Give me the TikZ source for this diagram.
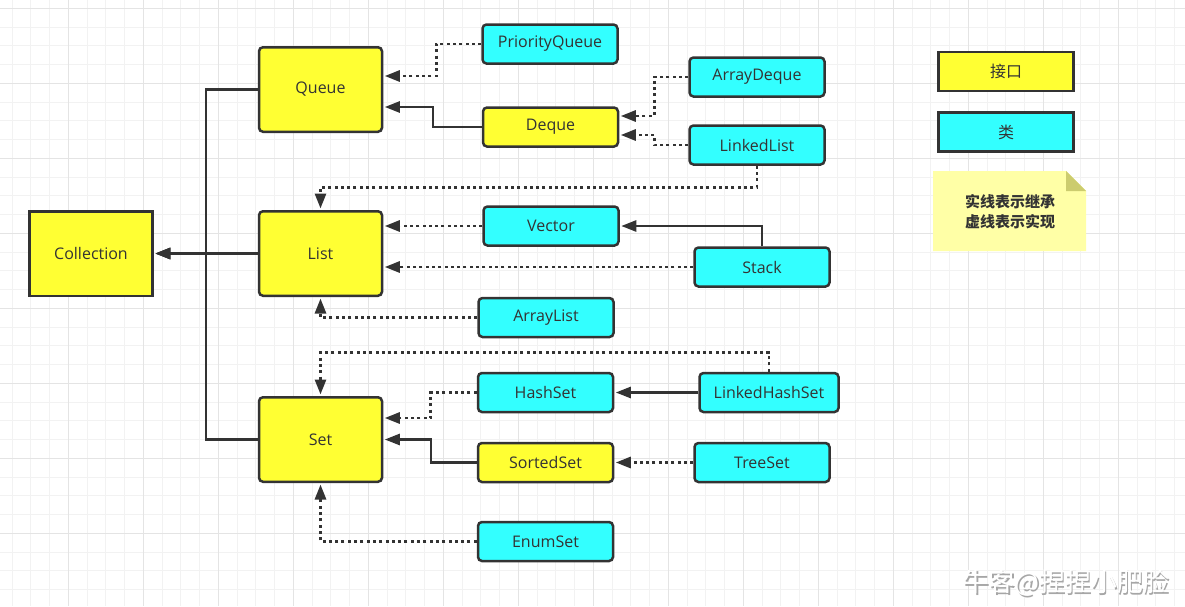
\documentclass[tikz,border=0pt]{standalone}
\usepackage{fontspec}
\setmainfont{Open Sans}
\newfontfamily\cjk{Noto Sans CJK SC}
\usetikzlibrary{arrows.meta}
\definecolor{ifyellow}{HTML}{FFFF33}
\definecolor{clscyan}{HTML}{33FFFF}
\definecolor{edge}{HTML}{333333}
\definecolor{noteyellow}{HTML}{FFFFA6}
\definecolor{notefold}{HTML}{CCCC6E}
\definecolor{gridminor}{HTML}{F2F2F2}
\definecolor{gridmajor}{HTML}{E4E4E4}

\begin{document}
\begin{tikzpicture}[x=1pt, y=-1pt,
    every node/.style={text=edge, font=\fontsize{16}{19}\selectfont},
    box/.style={draw=edge, line width=2.5pt, minimum width=135pt, minimum height=39pt, inner sep=0pt},
    iface/.style={box, fill=ifyellow, rounded corners=4pt},
    cls/.style={box, fill=clscyan, rounded corners=4pt},
    big/.style={minimum width=123pt, minimum height=84.5pt},
    inh/.style={draw=edge, line width=2.5pt, -{Triangle[length=15pt,width=11pt]}, shorten >=1.5pt},
    impl/.style={inh, line width=2.8pt, dash pattern=on 3pt off 3.3pt}]
        \fill[white] (0,0) rectangle (1185,606);
        \useasboundingbox (0,0) rectangle (1185,606);
        \foreach \k in {0,...,63} \draw[gridminor, line width=1pt] ({12.05+18.75*\k},0) -- ++(0,606);
        \foreach \k in {0,...,32} \draw[gridminor, line width=1pt] (0,{8.3+18.75*\k}) -- ++(1185,0);
        \foreach \k in {0,...,16} \draw[gridmajor, line width=1pt] ({-6.7+75*\k},0) -- ++(0,606);
        \foreach \k in {0,...,8} \draw[gridmajor, line width=1pt] (0,{8.3+75*\k}) -- ++(1185,0);

        \node[iface, big, sharp corners] (collection) at (91,253.5) {Collection};
        \node[iface, big] (queue) at (320.5,89.5) {Queue};
        \node[iface, big] (list) at (320.5,253.5) {List};
        \node[iface, big] (set) at (320.5,439.5) {Set};
        \node[cls] (pqueue) at (550,44) {PriorityQueue};
        \node[iface] (deque) at (550.5,127) {Deque};
        \node[cls] (arraydeque) at (757,77) {ArrayDeque};
        \node[cls] (linkedlist) at (757,145) {LinkedList};
        \node[cls] (vector) at (551,226) {Vector};
        \node[cls] (stack) at (762,267) {Stack};
        \node[cls] (arraylist) at (546,317.5) {ArrayList};
        \node[cls] (hashset) at (545.5,392.5) {HashSet};
        \node[cls, minimum width=139pt] (linkedhashset) at (769,392.5) {LinkedHashSet};
        \node[iface] (sortedset) at (545.5,462.5) {SortedSet};
        \node[cls] (treeset) at (762,462.5) {TreeSet};
        \node[cls] (enumset) at (545.5,541.5) {EnumSet};

        \node[iface, sharp corners] (keyiface) at (1006,71.5) {\cjk 接口};
        \node[cls, sharp corners] (keycls) at (1006,132) {\cjk 类};
        \fill[noteyellow] (933,171) -- (1066,171) -- (1086,191) -- (1086,251) -- (933,251) -- cycle;
        \fill[notefold] (1066,171) -- (1086,191) -- (1066,191) -- cycle;
        \node[align=center, font=\fontsize{15}{20}\selectfont\cjk\bfseries] (note) at (1010,211.5) {实线表示继承\\虚线表示实现};

        \draw[inh] (queue.west) -- ++(-52,0) |- (collection.east);
        \draw[inh] (set.west) -- ++(-52,0) |- (collection.east);
        \draw[inh] (list.west) -- (collection.east);
        \draw[impl] (pqueue.west) -- ++(-45,0) |- ([yshift=13.5pt]queue.east);
        \draw[inh] (deque.west) -- ++(-49,0) |- ([yshift=-17.5pt]queue.east);
        \draw[impl] (arraydeque.west) -- ++(-34,0) |- ([yshift=11pt]deque.east);
        \draw[impl] (linkedlist.west) -- ++(-34,0) |- ([yshift=-8pt]deque.east);
        \draw[impl] (linkedlist.south) -- ++(0,21.5) -| (list.north);
        \draw[impl] (vector.west) -- (vector.west -| list.east);
        \draw[impl] (stack.west) -- (stack.west -| list.east);
        \draw[inh] (stack.north) |- (vector.east);
        \draw[impl] (arraylist.west) -| (list.south);
        \draw[impl] (linkedhashset.north) -- ++(0,-19) -| (set.north);
        \draw[impl] (hashset.west) -- ++(-46,0) |- ([yshift=21.5pt]set.east);
        \draw[inh] (sortedset.west) -- ++(-46,0) |- (set.east);
        \draw[inh] (linkedhashset) -- (hashset);
        \draw[impl] (treeset) -- (sortedset);
        \draw[impl] (enumset.west) -| (set.south);

        \node[font=\fontsize{26}{30}\selectfont\cjk, text=gray!70] (markshadow) at (1067.5,584.5) {牛客@捏捏小肥脸};
        \node[font=\fontsize{26}{30}\selectfont\cjk, text=white] (mark) at (1066,583) {牛客@捏捏小肥脸};
\end{tikzpicture}
\end{document}
